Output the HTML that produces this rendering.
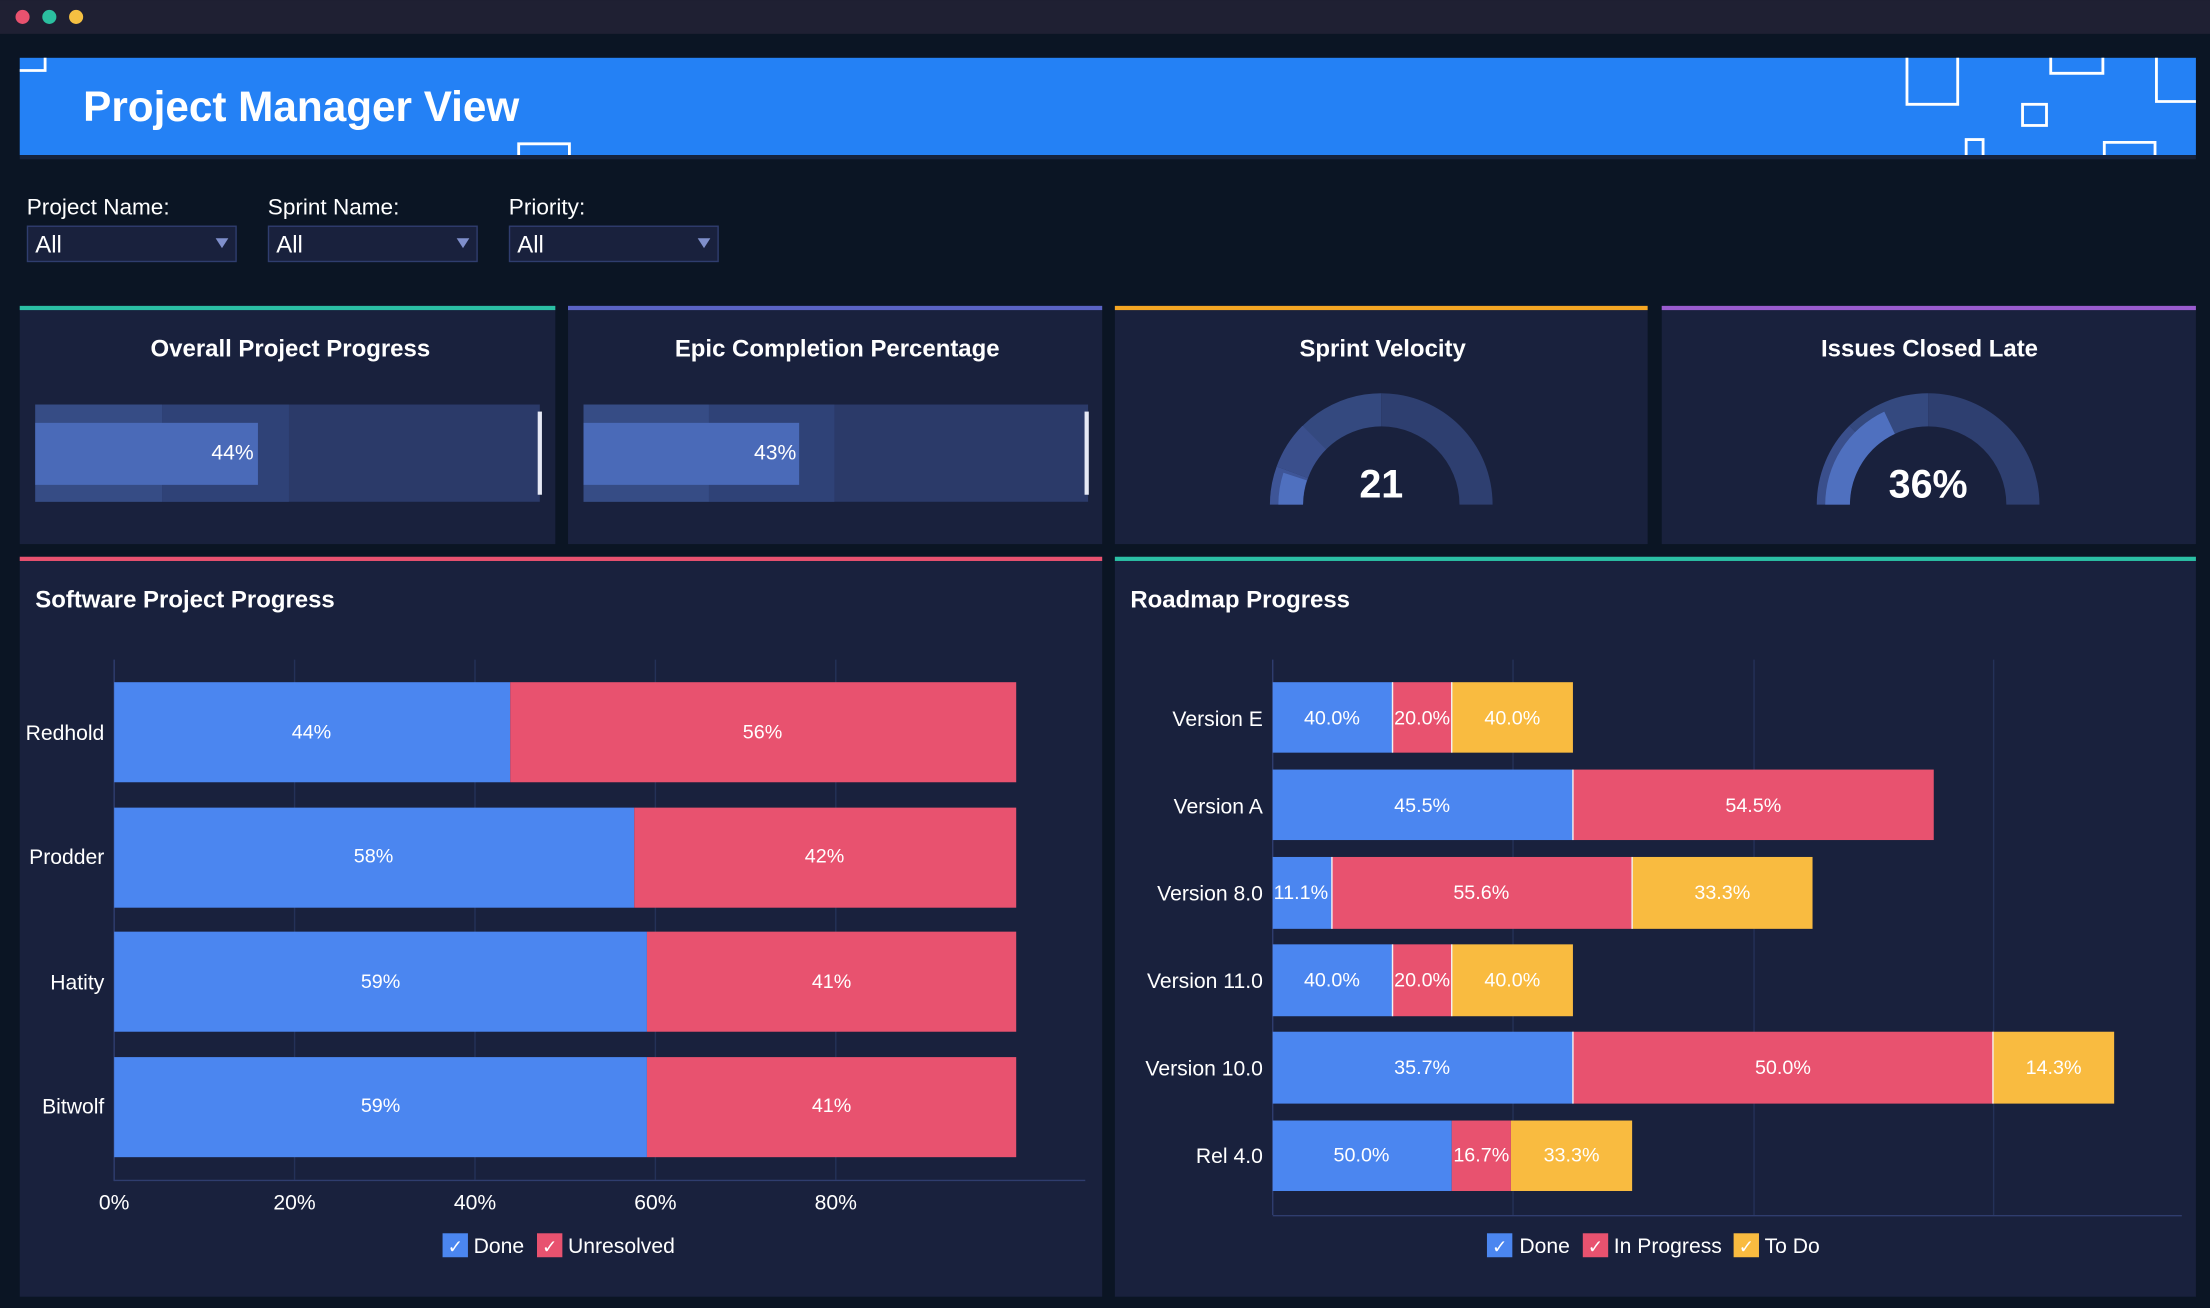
<!DOCTYPE html>
<html><head><meta charset="utf-8"><style>
html,body{margin:0;padding:0;background:#0b1524;}
svg{display:block;font-family:"Liberation Sans",sans-serif;}
</style></head><body>
<svg width="2210" height="1308" viewBox="0 0 1568 928" xmlns="http://www.w3.org/2000/svg">
<rect width="1568" height="928" fill="#0b1524"/>
<rect width="1568" height="24" fill="#1f2033"/>
<circle cx="16" cy="12" r="5" fill="#e8526f"/><circle cx="35" cy="12" r="5" fill="#2bbf9f"/><circle cx="54" cy="12" r="5" fill="#f5c042"/>
<!-- banner -->
<rect x="14" y="41" width="1544" height="69" fill="#2481f5"/>
<rect x="14" y="110" width="1544" height="3" fill="#16233d"/>
<g fill="none" stroke="#fff" stroke-width="2">
<path d="M14 50 H32 V41"/>
<path d="M368 110 V102 H404 V110"/>
<path d="M1353 41 V74 H1389 V41"/>
<path d="M1455 41 V52 H1492 V41"/>
<path d="M1530 41 V72 H1558"/>
<rect x="1435" y="74" width="17" height="15"/>
<path d="M1395 110 V99 H1407 V110"/>
<path d="M1493 110 V101 H1529 V110"/>
</g>
<text x="59" y="86" font-size="30" font-weight="bold" fill="#fff">Project Manager View</text>
<!-- filters -->
<g font-size="16" fill="#fff">
<text x="19" y="152">Project Name:</text><text x="190" y="152">Sprint Name:</text><text x="361" y="152">Priority:</text>
</g>
<g>
<rect x="19.5" y="160.5" width="148" height="25" fill="#19213d" stroke="#2f3d6e"/>
<rect x="190.5" y="160.5" width="148" height="25" fill="#19213d" stroke="#2f3d6e"/>
<rect x="361.5" y="160.5" width="148" height="25" fill="#19213d" stroke="#2f3d6e"/>
<g font-size="17" fill="#fff"><text x="25" y="179">All</text><text x="196" y="179">All</text><text x="367" y="179">All</text></g>
<g fill="#7f8fcb"><path d="M153 169h9l-4.5 7z"/><path d="M324 169h9l-4.5 7z"/><path d="M495 169h9l-4.5 7z"/></g>
</g>
<!-- KPI cards -->
<rect x="14" y="217" width="380" height="169" fill="#19213d"/><rect x="14" y="217" width="380" height="3" fill="#2bbfa4"/>
<rect x="403" y="217" width="379" height="169" fill="#19213d"/><rect x="403" y="217" width="379" height="3" fill="#5a63c4"/>
<rect x="791" y="217" width="378" height="169" fill="#19213d"/><rect x="791" y="217" width="378" height="3" fill="#f5a623"/>
<rect x="1179" y="217" width="379" height="169" fill="#19213d"/><rect x="1179" y="217" width="379" height="3" fill="#9a5ccf"/>
<g font-size="17" font-weight="bold" fill="#fff" text-anchor="middle">
<text x="206" y="253">Overall Project Progress</text>
<text x="594" y="253">Epic Completion Percentage</text>
<text x="981" y="253">Sprint Velocity</text>
<text x="1369" y="253">Issues Closed Late</text>
</g>
<!-- bullets -->
<rect x="25" y="287" width="358" height="69" fill="#2b3a69"/><rect x="25" y="287" width="90" height="69" fill="#364c85"/><rect x="115" y="287" width="90" height="69" fill="#2f4277"/>
<rect x="25" y="300" width="158" height="44" fill="#4a6ab8"/>
<rect x="381.5" y="292" width="3" height="59" fill="#e6e9f5"/>
<text x="180" y="326" font-size="15" fill="#fff" text-anchor="end">44%</text>
<rect x="414" y="287" width="358" height="69" fill="#2b3a69"/><rect x="414" y="287" width="89" height="69" fill="#364c85"/><rect x="503" y="287" width="89" height="69" fill="#2f4277"/>
<rect x="414" y="300" width="153" height="44" fill="#4a6ab8"/>
<rect x="769.5" y="292" width="3" height="59" fill="#e6e9f5"/>
<text x="565" y="326" font-size="15" fill="#fff" text-anchor="end">43%</text>
<!-- gauges -->
<g transform="translate(980,358)">
<path d="M-79 0 A79 79 0 0 1 -74.2 -27 L-52 -18.9 A55.5 55.5 0 0 0 -55.5 0Z" fill="#3e5597"/>
<path d="M-74.2 -27 A79 79 0 0 1 0 -79 L0 -55.5 A55.5 55.5 0 0 0 -52 -18.9Z" fill="#34497f"/>
<path d="M-74.2 -27 A79 79 0 0 1 -55.9 -55.9 L-39.2 -39.2 A55.5 55.5 0 0 0 -52 -18.9Z" fill="#3a4f8c"/>
<path d="M0 -79 A79 79 0 0 1 79 0 L55.5 0 A55.5 55.5 0 0 0 0 -55.5Z" fill="#2e3f70"/>
<path d="M-73 0 A73 73 0 0 1 -69.4 -22.6 L-52.8 -17.2 A55.5 55.5 0 0 0 -55.5 0Z" fill="#4f70bf"/>
<text x="0" y="-5" font-size="28" font-weight="bold" fill="#fff" text-anchor="middle">21</text>
</g>
<g transform="translate(1368,358)">
<path d="M-79 0 A79 79 0 0 1 -55.9 -55.9 L-39.2 -39.2 A55.5 55.5 0 0 0 -55.5 0Z" fill="#3a4f8c"/>
<path d="M-55.9 -55.9 A79 79 0 0 1 0 -79 L0 -55.5 A55.5 55.5 0 0 0 -39.2 -39.2Z" fill="#34497f"/>
<path d="M0 -79 A79 79 0 0 1 79 0 L55.5 0 A55.5 55.5 0 0 0 0 -55.5Z" fill="#2e3f70"/>
<path d="M-73 0 A73 73 0 0 1 -31.1 -66 L-23.6 -50.2 A55.5 55.5 0 0 0 -55.5 0Z" fill="#4f70bf"/>
<text x="0" y="-5" font-size="28" font-weight="bold" fill="#fff" text-anchor="middle">36%</text>
</g>
<!-- bottom panels -->
<rect x="14" y="395" width="768" height="525" fill="#19213d"/><rect x="14" y="395" width="768" height="3" fill="#e8526f"/>
<rect x="791" y="395" width="767" height="525" fill="#19213d"/><rect x="791" y="395" width="767" height="3" fill="#2bbfa4"/>
<text x="25" y="431" font-size="17" font-weight="bold" fill="#fff">Software Project Progress</text>
<text x="802" y="431" font-size="17" font-weight="bold" fill="#fff">Roadmap Progress</text>
<!-- left chart -->
<g stroke="#243158" stroke-width="1">
<line x1="209" y1="468" x2="209" y2="837"/><line x1="337" y1="468" x2="337" y2="837"/><line x1="465" y1="468" x2="465" y2="837"/><line x1="593" y1="468" x2="593" y2="837"/>
</g>
<line x1="81" y1="468" x2="81" y2="838" stroke="#2f3d6e"/>
<line x1="81" y1="837.5" x2="770" y2="837.5" stroke="#2f3d6e"/>
<g>
<rect x="81" y="484" width="281" height="71" fill="#4b86f0"/><rect x="362" y="484" width="359" height="71" fill="#e8526f"/>
<rect x="81" y="573" width="369" height="71" fill="#4b86f0"/><rect x="450" y="573" width="271" height="71" fill="#e8526f"/>
<rect x="81" y="661" width="378" height="71" fill="#4b86f0"/><rect x="459" y="661" width="262" height="71" fill="#e8526f"/>
<rect x="81" y="750" width="378" height="71" fill="#4b86f0"/><rect x="459" y="750" width="262" height="71" fill="#e8526f"/>
</g>
<g font-size="14" fill="#fff" text-anchor="middle">
<text x="221" y="524">44%</text><text x="541" y="524">56%</text>
<text x="265" y="612">58%</text><text x="585" y="612">42%</text>
<text x="270" y="701">59%</text><text x="590" y="701">41%</text>
<text x="270" y="789">59%</text><text x="590" y="789">41%</text>
</g>
<g font-size="15" fill="#fff" text-anchor="end">
<text x="74" y="525">Redhold</text><text x="74" y="613">Prodder</text><text x="74" y="702">Hatity</text><text x="74" y="790">Bitwolf</text>
</g>
<g font-size="15" fill="#fff" text-anchor="middle">
<text x="81" y="858">0%</text><text x="209" y="858">20%</text><text x="337" y="858">40%</text><text x="465" y="858">60%</text><text x="593" y="858">80%</text>
</g>
<rect x="314" y="875" width="18" height="17" fill="#4b86f0"/><text x="323" y="889" font-size="13" fill="#fff" text-anchor="middle">✓</text>
<text x="336" y="889" font-size="15" fill="#fff">Done</text>
<rect x="381" y="875" width="18" height="17" fill="#e8526f"/><text x="390" y="889" font-size="13" fill="#fff" text-anchor="middle">✓</text>
<text x="403" y="889" font-size="15" fill="#fff">Unresolved</text>
<!-- right chart -->
<g stroke="#243158" stroke-width="1">
<line x1="1073.5" y1="468" x2="1073.5" y2="862"/><line x1="1244.5" y1="468" x2="1244.5" y2="862"/><line x1="1414.5" y1="468" x2="1414.5" y2="862"/>
</g>
<line x1="903" y1="468" x2="903" y2="862" stroke="#2f3d6e"/>
<line x1="903" y1="862.5" x2="1548" y2="862.5" stroke="#2f3d6e"/>
<g>
<rect x="903" y="484" width="85" height="50" fill="#4b86f0"/><rect x="988" y="484" width="42" height="50" fill="#e8526f"/><rect x="1030" y="484" width="86" height="50" fill="#f9bb40"/>
<rect x="903" y="546" width="213" height="50" fill="#4b86f0"/><rect x="1116" y="546" width="256" height="50" fill="#e8526f"/>
<rect x="903" y="608" width="42" height="51" fill="#4b86f0"/><rect x="945" y="608" width="213" height="51" fill="#e8526f"/><rect x="1158" y="608" width="128" height="51" fill="#f9bb40"/>
<rect x="903" y="670" width="85" height="51" fill="#4b86f0"/><rect x="988" y="670" width="42" height="51" fill="#e8526f"/><rect x="1030" y="670" width="86" height="51" fill="#f9bb40"/>
<rect x="903" y="732" width="213" height="51" fill="#4b86f0"/><rect x="1116" y="732" width="298" height="51" fill="#e8526f"/><rect x="1414" y="732" width="86" height="51" fill="#f9bb40"/>
<rect x="903" y="795" width="127" height="50" fill="#4b86f0"/><rect x="1030" y="795" width="42" height="50" fill="#e8526f"/><rect x="1072" y="795" width="86" height="50" fill="#f9bb40"/>
</g>
<g stroke="#f4f0f0" stroke-width="1">
<line x1="988" y1="484" x2="988" y2="534"/><line x1="1030" y1="484" x2="1030" y2="534"/>
<line x1="1116" y1="546" x2="1116" y2="596"/>
<line x1="945" y1="608" x2="945" y2="659"/><line x1="1158" y1="608" x2="1158" y2="659"/>
<line x1="988" y1="670" x2="988" y2="721"/><line x1="1030" y1="670" x2="1030" y2="721"/>
<line x1="1116" y1="732" x2="1116" y2="783"/><line x1="1414" y1="732" x2="1414" y2="783"/>
</g>
<g font-size="14" fill="#fff" text-anchor="middle">
<text x="945" y="514">40.0%</text><text x="1009" y="514">20.0%</text><text x="1073" y="514">40.0%</text>
<text x="1009" y="576">45.5%</text><text x="1244" y="576">54.5%</text>
<text x="923" y="638">11.1%</text><text x="1051" y="638">55.6%</text><text x="1222" y="638">33.3%</text>
<text x="945" y="700">40.0%</text><text x="1009" y="700">20.0%</text><text x="1073" y="700">40.0%</text>
<text x="1009" y="762">35.7%</text><text x="1265" y="762">50.0%</text><text x="1457" y="762">14.3%</text>
<text x="966" y="824">50.0%</text><text x="1051" y="824">16.7%</text><text x="1115" y="824">33.3%</text>
</g>
<g font-size="15" fill="#fff" text-anchor="end">
<text x="896" y="515">Version E</text><text x="896" y="577">Version A</text><text x="896" y="639">Version 8.0</text>
<text x="896" y="701">Version 11.0</text><text x="896" y="763">Version 10.0</text><text x="896" y="825">Rel 4.0</text>
</g>
<rect x="1055" y="875" width="18" height="17" fill="#4b86f0"/><text x="1064" y="889" font-size="13" fill="#fff" text-anchor="middle">✓</text>
<text x="1078" y="889" font-size="15" fill="#fff">Done</text>
<rect x="1123" y="875" width="18" height="17" fill="#e8526f"/><text x="1132" y="889" font-size="13" fill="#fff" text-anchor="middle">✓</text>
<text x="1145" y="889" font-size="15" fill="#fff">In Progress</text>
<rect x="1230" y="875" width="18" height="17" fill="#f9bb40"/><text x="1239" y="889" font-size="13" fill="#fff" text-anchor="middle">✓</text>
<text x="1252" y="889" font-size="15" fill="#fff">To Do</text>
</svg>
</body></html>
